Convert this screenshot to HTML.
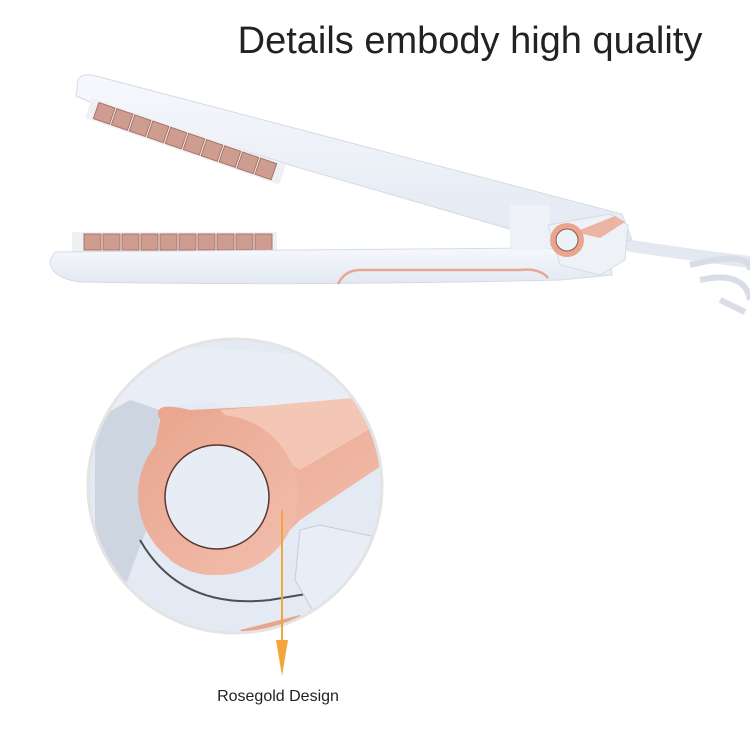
<!DOCTYPE html>
<html><head><meta charset="utf-8"><style>
html,body{margin:0;padding:0;background:#fff;width:750px;height:750px;overflow:hidden}
svg{display:block}
text{font-family:"Liberation Sans",sans-serif}
</style></head><body>
<svg width="750" height="750" viewBox="0 0 750 750">
<defs>
<linearGradient id="wh" x1="0" y1="0" x2="0" y2="1"><stop offset="0" stop-color="#f6f8fc"/><stop offset="1" stop-color="#e2e8f2"/></linearGradient>
<linearGradient id="rg" x1="0" y1="0" x2="1" y2="1"><stop offset="0" stop-color="#e9a58e"/><stop offset="1" stop-color="#f2bfae"/></linearGradient>
<clipPath id="cc"><circle cx="235" cy="486" r="146"/></clipPath>
</defs>
<text x="470" y="53" font-size="38" fill="#222" text-anchor="middle">Details embody high quality</text>

<!-- cord -->
<path d="M625 245 Q690 255 750 262" stroke="#e4e8f0" stroke-width="12" fill="none"/>
<path d="M690 265 Q750 250 750 270 M700 280 Q745 270 750 300 M720 300 L745 312" stroke="#d8dde8" stroke-width="6" fill="none"/>

<!-- upper arm -->
<path d="M78 80 Q80 74 92 75 L622 214 L632 240 L560 250 L520 232 L300 168 L95 104 L76 96 Z" fill="url(#wh)" stroke="#d5dbe6"/>
<g transform="translate(92 98) rotate(19)">
<rect x="0" y="0" width="205" height="21" fill="#eef0f4"/>
<g fill="#cf9c90" stroke="#a87367" stroke-width="1">
<rect x="8" y="2" width="17" height="17"/><rect x="27" y="2" width="17" height="17"/><rect x="46" y="2" width="17" height="17"/><rect x="65" y="2" width="17" height="17"/><rect x="84" y="2" width="17" height="17"/><rect x="103" y="2" width="17" height="17"/><rect x="122" y="2" width="17" height="17"/><rect x="141" y="2" width="17" height="17"/><rect x="160" y="2" width="17" height="17"/><rect x="179" y="2" width="17" height="17"/>
</g></g>

<!-- lower arm -->
<rect x="72" y="232" width="205" height="20" fill="#eef0f4"/>
<g fill="#cf9c90" stroke="#a87367" stroke-width="1">
<rect x="84" y="234" width="17" height="16"/><rect x="103" y="234" width="17" height="16"/><rect x="122" y="234" width="17" height="16"/><rect x="141" y="234" width="17" height="16"/><rect x="160" y="234" width="17" height="16"/><rect x="179" y="234" width="17" height="16"/><rect x="198" y="234" width="17" height="16"/><rect x="217" y="234" width="17" height="16"/><rect x="236" y="234" width="17" height="16"/><rect x="255" y="234" width="17" height="16"/>
</g>
<path d="M55 252 L540 248 L610 250 L612 275 L560 280 Q300 286 80 282 Q50 278 50 260 Z" fill="url(#wh)" stroke="#d5dbe6"/>
<path d="M338 284 Q345 270 360 270 L520 270 Q540 268 548 278" stroke="#e8a794" stroke-width="2.5" fill="none"/>
<rect x="510" y="205" width="40" height="45" fill="#eef1f6"/>
<path d="M548 225 L610 214 L628 225 L625 260 L600 275 L560 265 Z" fill="#eef1f6" stroke="#d5dbe6"/>
<path d="M575 232 L615 216 L625 222 L600 238 Z" fill="#ecb4a2"/>
<circle cx="567" cy="240" r="17" fill="#e9a58e"/>
<circle cx="567" cy="240" r="11" fill="#eef1f6" stroke="#8a5a50"/>

<!-- zoom circle -->
<circle cx="235" cy="486" r="148" fill="#ececec"/>
<g clip-path="url(#cc)">
<rect x="80" y="330" width="320" height="320" fill="#e4eaf3"/>
<path d="M90 340 L380 360 L400 400 L290 420 L200 400 L130 420 L95 470 Z" fill="#e9eef6"/>
<path d="M130 400 L160 410 L150 520 L120 600 L95 600 L95 420 Z" fill="#cdd5e1"/>
<path d="M160 420 Q150 400 190 410 L380 400 L390 460 L300 520 L260 560 Q210 590 170 560 Q140 520 160 420 Z" fill="url(#rg)"/>
<path d="M220 410 L385 395 L385 420 L300 470 L250 440 Z" fill="#f3c6b6"/>
<circle cx="218" cy="495" r="80" fill="url(#rg)"/>
<circle cx="217" cy="497" r="52" fill="#e8edf5" stroke="#5a3530" stroke-width="1.5"/>
<path d="M140 540 Q180 610 270 600 L330 590" stroke="#4b4f58" stroke-width="2" fill="none"/>
<path d="M300 530 L320 525 L390 540 L390 600 L330 640 L295 580 Z" fill="#e9eef6" stroke="#c5ccd8"/>
<path d="M240 630 L300 615 L310 625 L250 640 Z" fill="#e9a58e"/>
</g>
<circle cx="235" cy="486" r="147" fill="none" stroke="#e4e4e4" stroke-width="3"/>

<!-- arrow -->
<line x1="282" y1="510" x2="282" y2="645" stroke="#f2a63a" stroke-width="2"/>
<path d="M276 640 L288 640 L282 676 Z" fill="#f2a63a"/>
<text x="278" y="701" font-size="16" fill="#222" text-anchor="middle">Rosegold Design</text>
</svg>
</body></html>
